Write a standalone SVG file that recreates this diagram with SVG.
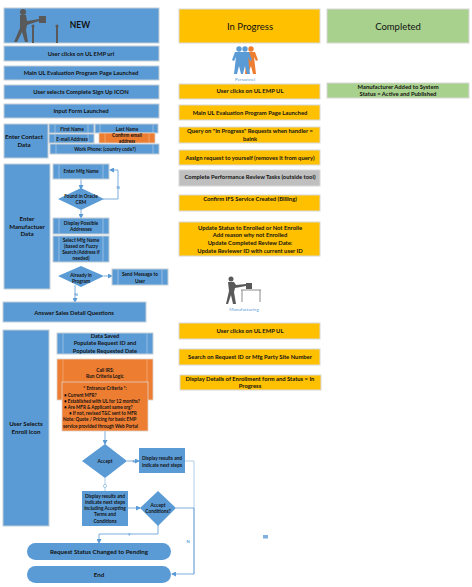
<svg xmlns="http://www.w3.org/2000/svg" width="472" height="587" viewBox="0 0 472 587">
<style>
text{font-family:Lato,"Liberation Sans",sans-serif;font-weight:700;fill:#111;text-anchor:middle;font-size:5.85px}
.b{fill:#5b9bd5;stroke:#c3cdd6;stroke-width:1}
.y{fill:#ffc000;stroke:#d8d8d8;stroke-width:1}
.g{fill:#a9d18e;stroke:#d8d8d8;stroke-width:1}
.o{fill:#ed7d31;stroke:#e2d3c8;stroke-width:.8}
.gr{fill:#bfbfbf;stroke:#d8d8d8;stroke-width:1}
.d{fill:#5b9bd5}
.in{stroke:#a9c9e8;stroke-width:.7;fill:none}
.ino{stroke:#f4b183;stroke-width:.7;fill:none}
.c{fill:none;stroke:#5b9bd5;stroke-width:.8}
.cl{fill:none;stroke:#a9c9e8;stroke-width:.9}
.h{font-size:9.5px;font-weight:400}
.n{font-size:8.5px}
.m{font-size:5.7px}
.lg{font-size:6.2px}
.l{font-size:4.6px;fill:#5b9bd5;font-weight:400}
.q{font-size:4.2px;fill:#5b9bd5}
.s{font-size:4.8px}
.st{text-anchor:start;font-size:4.6px}
</style>
<defs>
<marker id="a" markerWidth="5" markerHeight="5" refX="4" refY="2.5" orient="auto" markerUnits="userSpaceOnUse"><path d="M0 0L5 2.5L0 5z" fill="#5b9bd5"/></marker>
</defs>
<g id="connectors">
<path class="c" d="M81 179V189" marker-end="url(#a)"/>
<path class="c" d="M103 199H118V170H110" marker-end="url(#a)"/>
<path class="c" d="M81 210V218" marker-end="url(#a)"/>
<path class="c" d="M104 276H112" marker-end="url(#a)"/>
<path class="c" d="M75 285V302" marker-end="url(#a)"/>
<path class="c" d="M105 431V444" marker-end="url(#a)"/>
<path class="c" d="M127 461H139" marker-end="url(#a)"/>
<path class="cl" d="M105 478V491"/>
<circle cx="105" cy="486" r="1.6" fill="#fff" stroke="#5b9bd5" stroke-width=".5"/>
<path class="c" d="M128 508H140" marker-end="url(#a)"/>
<path class="c" d="M158 525V534H99V543" marker-end="url(#a)"/>
<path class="cl" d="M185 461H194V574"/>
<path class="c" d="M176 508H194V574H172" marker-end="url(#a)"/>
<text class="q" x="118" y="189">N</text>
<text class="q" x="76" y="296">N</text>
<text class="q" x="134" y="463">N</text>
<text class="q" x="129" y="536">Y</text>
<text class="q" x="188" y="543">N</text>
</g>
<g id="new"><rect class="b" x="4" y="8" width="155" height="35"/>
<g fill="#595959"><circle cx="23" cy="12" r="3"/><path d="M20 15H26L27 21L39 19V21L27 25L26 30L28 42H25L22 32L17 42H14L20 28Z"/><rect x="39" y="16" width="7" height="7"/><rect x="32" y="25" width="2" height="18"/><rect x="56" y="25" width="2" height="18"/><circle cx="33" cy="26" r="1.5"/><circle cx="57" cy="26" r="1.5"/></g>
<text class="n" x="80" y="28">NEW</text></g>
<g id="n1"><rect class="b" x="4" y="46" width="155" height="15"/><text x="81" y="56">User clicks on UL EMP url</text></g>
<g id="n2"><rect class="b" x="4" y="66" width="155" height="14"/><text x="81" y="75">Main UL Evaluation Program Page Launched</text></g>
<g id="n3"><rect class="b" x="4" y="85" width="155" height="14"/><text x="81" y="94">User selects Complete Sign Up ICON</text></g>
<g id="n4"><rect class="b" x="4" y="104" width="155" height="14"/><text x="81" y="113">Input Form Launched</text></g>
<g id="contact"><rect class="b" x="4" y="124" width="44" height="34"/><text class="lg" x="24" y="139">Enter Contact</text><text class="lg" x="24" y="147">Data</text></g>
<g id="first"><rect class="b" x="49" y="124" width="45" height="9"/><path class="in" d="M55 124V133M88 124V133"/><text class="s" x="72" y="130.500">First Name</text></g>
<g id="last"><rect class="b" x="95" y="124" width="63" height="9"/><path class="in" d="M100 124V133M153 124V133"/><text class="s" x="127" y="130.500">Last Name</text></g>
<g id="email"><rect class="b" x="49" y="134" width="45" height="9"/><path class="in" d="M55 134V143M88 134V143"/><text class="s" x="72" y="140.500">E-mail Address</text></g>
<g id="confirm"><rect class="o" x="99" y="133" width="56" height="10"/><path class="ino" d="M105 133V143M149 133V143"/><text class="s" x="127" y="136.500">Confirm email</text><text class="s" x="127" y="142.500">address</text></g>
<g id="phone"><rect class="b" x="50" y="144" width="109" height="10"/><path class="in" d="M56 144V154M153 144V154"/><text class="s" x="105" y="150.500">Work Phone:  (country code?)</text></g>
<g id="mfr"><rect class="b" x="4" y="164" width="46" height="125"/><text class="lg" x="27" y="221">Enter</text><text class="lg" x="27" y="229">Manufactuer</text><text class="lg" x="27" y="236">Data</text></g>
<g id="mfgname"><rect class="b" x="53" y="164" width="56" height="15"/><path class="in" d="M59 164V179M103 164V179"/><text class="s" x="81" y="172.500">Enter Mfg Name</text></g>
<g id="found"><path class="d" d="M81 188L104 199L81 210L58 199Z"/><text class="s" x="81" y="198">Found in Oracle</text><text class="s" x="81" y="204">CRM</text></g>
<g id="addr"><rect class="b" x="53" y="218" width="56" height="16"/><path class="in" d="M59 218V234M103 218V234"/><text class="s" x="81" y="224.500">Display Possible</text><text class="s" x="81" y="230.500">Addresses</text></g>
<g id="select"><rect class="b" x="53" y="236" width="56" height="26"/><path class="in" d="M59 236V262M103 236V262"/><text class="s" x="81" y="241.500">Select Mfg Name</text><text class="s" x="81" y="247.500">(based on Fuzzy</text><text class="s" x="81" y="253.500">Search/Address if</text><text class="s" x="81" y="259.500">needed)</text></g>
<g id="already"><path class="d" d="M81 266L104 276L81 287L58 276Z"/><text class="s" x="81" y="277">Already in</text><text class="s" x="81" y="283">Program</text></g>
<g id="send"><rect class="b" x="112" y="269" width="56" height="16"/><path class="in" d="M118 269V285M162 269V285"/><text class="s" x="140" y="276">Send Message to</text><text class="s" x="140" y="283">User</text></g>
<g id="sales"><rect class="b" x="3" y="302" width="143" height="20"/><text x="74" y="315">Answer Sales Detail Questions</text></g>
<g id="enroll"><rect class="b" x="3" y="330" width="46" height="196"/><text class="lg" x="26" y="426">User Selects</text><text class="lg" x="26" y="434">Enroll Icon</text></g>
<g id="saved"><rect class="b" x="57" y="333" width="96" height="21"/><path class="in" d="M63 333V354M147 333V354"/><text x="105" y="337.500" class="m">Data Saved</text><text class="m" x="105" y="345">Populate Request ID and</text><text class="m" x="105" y="353">Populate Requested Date</text></g>
<g id="irs"><rect class="o" x="57" y="359" width="96" height="41"/><path class="ino" d="M63 359V400M147 359V400"/><text class="s" x="105" y="372">Call IRS:</text><text class="s" x="105" y="378">Run Criteria Logic</text></g>
<g id="entrance"><rect class="o" x="62" y="382" width="86" height="49"/><text class="s" x="105" y="390">* Entrance Criteria *:</text>
<text class="st" x="64" y="396.500">• Current MFR?</text><text class="st" x="64" y="402.500">• Established with UL for 12 months?</text><text class="st" x="64" y="408.500">• Are MFR &amp; Applicant same org?</text><text class="st" x="69" y="414.500">• If not, revised T&amp;C sent to MFR</text><text class="st" x="63" y="420.500">Note: Quote / Pricing for basic EMP</text><text class="st" x="63" y="427.500">service provided through Web Portal</text></g>
<g id="accept"><path class="d" d="M105 444L127 461L105 478L82 461Z"/><text class="s" x="105" y="463">Accept</text></g>
<g id="res1"><rect class="d" x="139" y="448" width="46" height="25"/><text class="s" x="162" y="460">Display results and</text><text class="s" x="162" y="466.500">indicate next steps</text></g>
<g id="res2"><rect class="d" x="82" y="491" width="46" height="35"/><text class="s" x="105" y="497.500">Display results and</text><text class="s" x="105" y="503.500">indicate next steps</text><text class="s" x="105" y="510">including Accepting</text><text class="s" x="105" y="516">Terms and</text><text class="s" x="105" y="522.500">Conditions</text></g>
<g id="cond"><path class="d" d="M158 491L176 508L158 526L140 508Z"/><text class="s" x="158" y="507">Accept</text><text class="s" x="158" y="513">Conditions?</text></g>
<g id="pending"><rect class="d" x="27" y="543" width="144" height="17" rx="8.500"/><text class="lg" x="99" y="554">Request Status Changed  to Pending</text></g>
<g id="end"><rect class="d" x="27" y="566" width="144" height="17" rx="8.500"/><text class="lg" x="99" y="577">End</text></g>
<g id="inprog"><rect class="y" x="179" y="9" width="141" height="34"/><text class="h" x="250" y="30">In Progress</text></g>
<g id="done"><rect class="g" x="327" y="9" width="142" height="34"/><text class="h" x="398" y="30">Completed</text></g>
<g id="personnel"><g fill="#ed7d31"><circle cx="251" cy="49" r="2.700"/><path d="M247 52H255L258 60L256 61L254 57L256 74H253L251 66L248 74H245Z"/></g><g fill="#5b9bd5"><circle cx="239" cy="49" r="2.700"/><circle cx="245" cy="49" r="2.700"/><path d="M235 52H249L252 60L250 61L248 57L250 74H247L245 66L243 74H241L239 66L237 74H234L236 57L234 61L232 60Z"/></g><text class="l" x="245" y="81">Personnel</text></g>
<g id="r1"><rect class="y" x="179" y="84" width="141" height="15"/><text x="250" y="93">User clicks on UL EMP UL</text></g>
<g id="r2"><rect class="y" x="179" y="105" width="141" height="15"/><text x="250" y="115">Main UL Evaluation Program Page Launched</text></g>
<g id="r3"><rect class="y" x="179" y="127" width="141" height="16"/><text x="250" y="133">Query on "In Progress" Requests when handler =</text><text x="250" y="141">baink</text></g>
<g id="r4"><rect class="y" x="179" y="150" width="141" height="15"/><text x="250" y="160">Assign request to yourself (removes it from query)</text></g>
<g id="r5"><rect class="gr" x="179" y="170" width="141" height="16"/><text x="250" y="179">Complete Performance Review Tasks (outside tool)</text></g>
<g id="r6"><rect class="y" x="179" y="195" width="141" height="16"/><text x="250" y="201">Confirm IFS Service Created (Billing)</text></g>
<g id="r7"><rect class="y" x="179" y="222" width="141" height="34"/><text x="250" y="230">Update Status to Enrolled or Not Enrolle</text><text x="250" y="237">Add reason why not Enrolled</text><text x="250" y="245">Update Completed Review Date:</text><text x="250" y="253">Update Reviewer ID with current user ID</text></g>
<g id="manuf"><g fill="#595959"><circle cx="231" cy="279" r="2.500"/><path d="M228 282H234L236 285L246 284V286L235 288L234 292L236 304H233L231 295L228 304H226L229 291Z"/><rect x="246" y="283" width="6" height="6"/></g><path d="M241 290H261M242 290V302M260 290V302" fill="none" stroke="#8c8c8c" stroke-width="1"/><text class="l" x="244" y="311">Manufacturing</text></g>
<g id="r8"><rect class="y" x="179" y="323" width="141" height="16"/><text x="250" y="333">User clicks on UL EMP UL</text></g>
<g id="r9"><rect class="y" x="179" y="349" width="141" height="16"/><text x="250" y="359">Search on Request ID or Mfg Party Site Number</text></g>
<g id="r10"><rect class="y" x="180" y="375" width="141" height="15"/><text x="250" y="381">Display Details of Enrollment form and Status = In</text><text x="250" y="388">Progress</text></g>
<g id="g1"><rect class="g" x="327" y="83" width="142" height="15"/><text x="398" y="89">Manufacturer Added to System</text><text x="398" y="96">Status = Active and Published</text></g>
<rect x="263" y="535" width="5" height="3.500" fill="#7fb0e0"/>
</svg>
